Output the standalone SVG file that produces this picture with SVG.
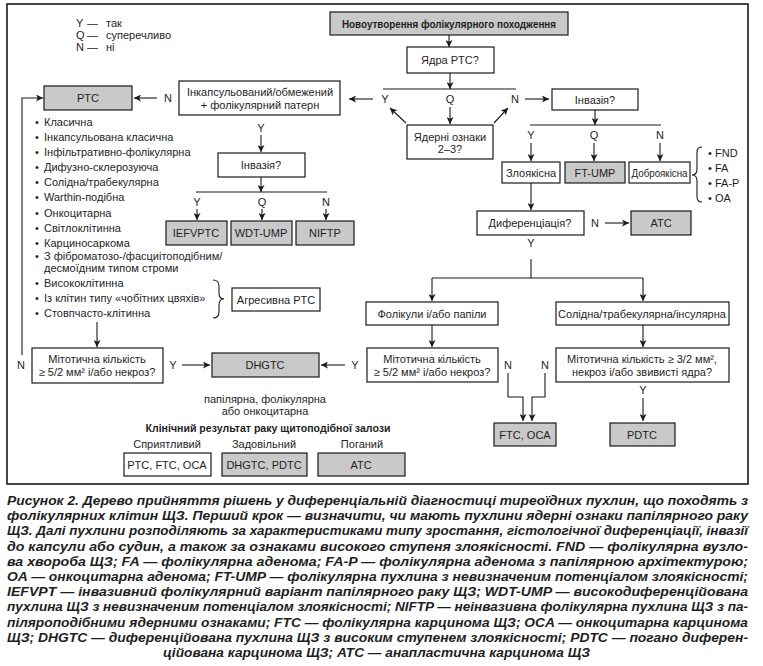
<svg xmlns="http://www.w3.org/2000/svg" width="763" height="666" viewBox="0 0 763 666">
<defs>
<marker id="ah" viewBox="0 0 10 10" refX="10" refY="5" markerWidth="8" markerHeight="7" orient="auto" markerUnits="userSpaceOnUse">
<path d="M0,0 L10,5 L0,10 L2.5,5 z" fill="#1a1a1a"/>
</marker>
<style>
.t{font-family:"Liberation Sans Narrow","Liberation Sans",Arial,sans-serif;font-size:11px;fill:#1e1e1e}
.m{text-anchor:middle}
.b{font-weight:bold}
.w{fill:#fff;stroke:#1a1a1a;stroke-width:1.2}
.g{fill:#c9c9c9;stroke:#1a1a1a;stroke-width:1.2}
.ln{fill:none;stroke:#1a1a1a;stroke-width:1.1}
.a{marker-end:url(#ah)}
.cap{font-family:"Liberation Sans",Arial,sans-serif;font-size:13px;font-weight:bold;font-style:italic;fill:#1e1e1e}
</style>
</defs>
<rect x="7" y="4" width="741" height="480" fill="#fff" stroke="#1a1a1a" stroke-width="1.6"/>

<g id="legend" class="t">
<text y="27"><tspan x="76">Y</tspan><tspan x="87">—</tspan><tspan x="106">так</tspan></text>
<text y="39"><tspan x="76">Q</tspan><tspan x="87">—</tspan><tspan x="106">суперечливо</tspan></text>
<text y="51"><tspan x="76">N</tspan><tspan x="87">—</tspan><tspan x="106">ні</tspan></text>
</g>

<g id="connectors">
<line class="ln a" x1="449" y1="35" x2="449" y2="47"/>
<line class="ln a" x1="450" y1="73" x2="450" y2="89"/>
<line class="ln" x1="383" y1="89" x2="516" y2="89"/>
<line class="ln a" x1="373" y1="99" x2="349" y2="99"/>
<line class="ln a" x1="525" y1="99" x2="549" y2="99"/>
<line class="ln a" x1="450" y1="107" x2="450" y2="124"/>
<line class="ln a" x1="406" y1="123" x2="390" y2="108"/>
<line class="ln a" x1="494" y1="123" x2="508" y2="108"/>
<line class="ln a" x1="157" y1="98" x2="134" y2="98"/>
<path class="ln a" d="M22,355 V98 H43"/>
<line class="ln a" x1="261" y1="135" x2="261" y2="152"/>
<line class="ln a" x1="261" y1="177" x2="261" y2="192"/>
<line class="ln" x1="196" y1="192" x2="327" y2="192"/>
<line class="ln a" x1="197" y1="209" x2="197" y2="220"/>
<line class="ln a" x1="262" y1="209" x2="262" y2="220"/>
<line class="ln a" x1="326" y1="209" x2="326" y2="220"/>
<path class="ln" d="M213,280 Q219,280 219,286 L219,293 Q219,299 224,299 Q219,299 219,305 L219,312 Q219,318 213,318"/>
<line class="ln a" x1="97" y1="322" x2="97" y2="347"/>
<line class="ln a" x1="182" y1="365" x2="210" y2="365"/>
<line class="ln a" x1="345" y1="365" x2="321" y2="365"/>
<line class="ln a" x1="595" y1="110" x2="595" y2="125"/>
<line class="ln" x1="530" y1="125" x2="661" y2="125"/>
<line class="ln a" x1="531" y1="143" x2="531" y2="161"/>
<line class="ln a" x1="594" y1="143" x2="594" y2="161"/>
<line class="ln a" x1="660" y1="143" x2="660" y2="161"/>
<path class="ln" d="M702,147 Q697,147 697,152 L697,169 Q697,175 692,175 Q697,175 697,181 L697,197 Q697,202 702,202"/>
<line class="ln a" x1="531" y1="183" x2="531" y2="210"/>
<line class="ln a" x1="605" y1="223" x2="629" y2="223"/>
<line class="ln" x1="531" y1="259" x2="531" y2="278"/>
<line class="ln" x1="432" y1="278" x2="643" y2="278"/>
<line class="ln a" x1="432" y1="278" x2="432" y2="301"/>
<line class="ln a" x1="643" y1="278" x2="643" y2="301"/>
<line class="ln a" x1="432" y1="325" x2="432" y2="347"/>
<line class="ln a" x1="643" y1="325" x2="643" y2="347"/>
<path class="ln a" d="M508,373 V397 H523 V421"/>
<path class="ln a" d="M545,373 V397 H532 V421"/>
<line class="ln a" x1="643" y1="398" x2="643" y2="421"/>
</g>

<g id="edge-labels" class="t m">
<text x="385" y="103">Y</text>
<text x="450" y="103">Q</text>
<text x="515" y="103">N</text>
<text x="168" y="102">N</text>
<text x="21" y="369">N</text>
<text x="261" y="132">Y</text>
<text x="197" y="206">Y</text>
<text x="262" y="206">Q</text>
<text x="326" y="206">N</text>
<text x="173" y="369">Y</text>
<text x="355" y="369">Y</text>
<text x="531" y="139">Y</text>
<text x="594" y="139">Q</text>
<text x="660" y="139">N</text>
<text x="595" y="227">N</text>
<text x="531" y="247">Y</text>
<text x="508" y="369">N</text>
<text x="545" y="369">N</text>
<text x="643" y="394">Y</text>
</g>

<g id="n-start"><rect class="g" x="330" y="12" width="238" height="23"/><text class="t m b" x="449" y="28" textLength="214" lengthAdjust="spacingAndGlyphs">Новоутворення фолікулярного походження</text></g>
<g id="n-nuclei"><rect class="w" x="407" y="47" width="87" height="26"/><text class="t m" x="450" y="64">Ядра PTC?</text></g>
<g id="n-features"><rect class="w" x="407" y="125" width="86" height="34"/><text class="t m" x="450" y="141">Ядерні ознаки</text><text class="t m" x="450" y="153">2–3?</text></g>
<g id="n-encaps"><rect class="w" x="179" y="81" width="161" height="34"/><text class="t m" x="260" y="96">Інкапсульований/обмежений</text><text class="t m" x="260" y="109">+ фолікулярний патерн</text></g>
<g id="n-ptc"><rect class="g" x="44" y="86" width="88" height="24"/><text class="t m" x="88" y="102">PTC</text></g>
<g id="n-ptc-list" class="t">
<text x="35" y="126">•</text><text x="44" y="126">Класична</text>
<text x="35" y="141">•</text><text x="44" y="141">Інкапсульована класична</text>
<text x="35" y="156">•</text><text x="44" y="156">Інфільтративно-фолікулярна</text>
<text x="35" y="171">•</text><text x="44" y="171">Дифузно-склерозуюча</text>
<text x="35" y="186">•</text><text x="44" y="186">Солідна/трабекулярна</text>
<text x="35" y="201">•</text><text x="44" y="201">Warthin-подібна</text>
<text x="35" y="217">•</text><text x="44" y="217">Онкоцитарна</text>
<text x="35" y="232">•</text><text x="44" y="232">Світлоклітинна</text>
<text x="35" y="247">•</text><text x="44" y="247">Карциносаркома</text>
<text x="35" y="260">•</text><text x="44" y="260">З фіброматозо-/фасциітоподібним/</text>
<text x="44" y="272">десмоїдним типом строми</text>
<text x="35" y="287">•</text><text x="44" y="287">Висококлітинна</text>
<text x="35" y="302">•</text><text x="44" y="302">Із клітин типу «чобітних цвяхів»</text>
<text x="35" y="317">•</text><text x="44" y="317">Стовпчасто-клітинна</text>
</g>
<g id="n-aggr"><rect class="w" x="232" y="288" width="88" height="23"/><text class="t m" x="276" y="304">Агресивна PTC</text></g>
<g id="n-inv1"><rect class="w" x="218" y="153" width="87" height="24"/><text class="t m" x="261" y="169">Інвазія?</text></g>
<g id="n-iefvptc"><rect class="g" x="166" y="221" width="61" height="24"/><text class="t m" x="196" y="237">IEFVPTC</text></g>
<g id="n-wdt"><rect class="g" x="231" y="221" width="61" height="24"/><text class="t m" x="261" y="237">WDT-UMP</text></g>
<g id="n-niftp"><rect class="g" x="296" y="221" width="58" height="24"/><text class="t m" x="325" y="237">NIFTP</text></g>
<g id="n-mit1"><rect class="w" x="32" y="348" width="131" height="35"/><text class="t m" x="97" y="363">Мітотична кількість</text><text class="t m" x="97" y="376">≥ 5/2 мм² і/або некроз?</text></g>
<g id="n-dhgtc"><rect class="g" x="212" y="353" width="107" height="24"/><text class="t m" x="265" y="369">DHGTC</text><text class="t m" x="265" y="403">папілярна, фолікулярна</text><text class="t m" x="265" y="415">або онкоцитарна</text></g>
<g id="outcome">
<text class="t m b" x="268" y="432" textLength="245" lengthAdjust="spacingAndGlyphs">Клінічний результат раку щитоподібної залози</text>
<text class="t m" x="167" y="448">Сприятливий</text>
<text class="t m" x="264" y="448">Задовільний</text>
<text class="t m" x="362" y="448">Поганий</text>
<rect class="w" x="124" y="453" width="87" height="23"/><text class="t m" x="167" y="469">PTC, FTC, OCA</text>
<rect class="g" x="222" y="453" width="85" height="23"/><text class="t m" x="264" y="469">DHGTC, PDTC</text>
<rect class="g" x="318" y="453" width="87" height="23"/><text class="t m" x="361" y="469">ATC</text>
</g>
<g id="n-inv2"><rect class="w" x="552" y="89" width="86" height="21"/><text class="t m" x="595" y="104">Інвазія?</text></g>
<g id="n-malig"><rect class="w" x="502" y="162" width="58" height="21"/><text class="t m" x="531" y="177">Злоякісна</text></g>
<g id="n-ftump"><rect class="g" x="565" y="162" width="60" height="21"/><text class="t m" x="595" y="177">FT-UMP</text></g>
<g id="n-benign"><rect class="w" x="629" y="162" width="61" height="21"/><text class="t m" x="659.5" y="177" textLength="56" lengthAdjust="spacingAndGlyphs">Доброякісна</text></g>
<g id="n-benign-list" class="t">
<text x="708" y="157">•</text><text x="715" y="157">FND</text>
<text x="708" y="172">•</text><text x="715" y="172">FA</text>
<text x="708" y="187">•</text><text x="715" y="187">FA-P</text>
<text x="708" y="202">•</text><text x="715" y="202">OA</text>
</g>
<g id="n-diff"><rect class="w" x="477" y="211" width="107" height="24"/><text class="t m" x="530" y="227">Диференціація?</text></g>
<g id="n-atc"><rect class="g" x="631" y="211" width="60" height="24"/><text class="t m" x="661" y="227">ATC</text></g>
<g id="n-foll"><rect class="w" x="366" y="302" width="132" height="23"/><text class="t m" x="432" y="318">Фолікули і/або папіли</text></g>
<g id="n-solid"><rect class="w" x="556" y="302" width="173" height="23"/><text class="t m" x="642" y="318">Солідна/трабекулярна/інсулярна</text></g>
<g id="n-mit2"><rect class="w" x="367" y="348" width="131" height="34"/><text class="t m" x="432" y="363">Мітотична кількість</text><text class="t m" x="432" y="376">≥ 5/2 мм² і/або некроз?</text></g>
<g id="n-mit3"><rect class="w" x="556" y="348" width="173" height="34"/><text class="t m" x="642" y="363">Мітотична кількість ≥ 3/2 мм²,</text><text class="t m" x="642" y="376">некроз і/або звивисті ядра?</text></g>
<g id="n-ftc"><rect class="g" x="494" y="423" width="62" height="23"/><text class="t m" x="525" y="439">FTC, OCA</text></g>
<g id="n-pdtc"><rect class="g" x="610" y="423" width="65" height="23"/><text class="t m" x="642" y="439">PDTC</text></g>

<g id="caption" class="cap">
<text x="7" y="505" textLength="741" lengthAdjust="spacingAndGlyphs">Рисунок 2. Дерево прийняття рішень у диференціальній діагностиці тиреоїдних пухлин, що походять з</text>
<text x="7" y="520.2" textLength="741" lengthAdjust="spacingAndGlyphs">фолікулярних клітин ЩЗ. Перший крок — визначити, чи мають пухлини ядерні ознаки папілярного раку</text>
<text x="7" y="535.4" textLength="741" lengthAdjust="spacingAndGlyphs">ЩЗ. Далі пухлини розподіляють за характеристиками типу зростання, гістологічної диференціації, інвазії</text>
<text x="7" y="550.6" textLength="741" lengthAdjust="spacingAndGlyphs">до капсули або судин, а також за ознаками високого ступеня злоякісності. FND — фолікулярна вузло-</text>
<text x="7" y="565.8" textLength="741" lengthAdjust="spacingAndGlyphs">ва хвороба ЩЗ; FA — фолікулярна аденома; FA-P — фолікулярна аденома з папілярною архітектурою;</text>
<text x="7" y="581" textLength="741" lengthAdjust="spacingAndGlyphs">OA — онкоцитарна аденома; FT-UMP — фолікулярна пухлина з невизначеним потенціалом злоякісності;</text>
<text x="7" y="596.2" textLength="741" lengthAdjust="spacingAndGlyphs">IEFVPT — інвазивний фолікулярний варіант папілярного раку ЩЗ; WDT-UMP — високодиференційована</text>
<text x="7" y="611.4" textLength="741" lengthAdjust="spacingAndGlyphs">пухлина ЩЗ з невизначеним потенціалом злоякісності; NIFTP — неінвазивна фолікулярна пухлина ЩЗ з па-</text>
<text x="7" y="626.6" textLength="741" lengthAdjust="spacingAndGlyphs">піляроподібними ядерними ознаками; FTC — фолікулярна карцинома ЩЗ; OCA — онкоцитарна карцинома</text>
<text x="7" y="641.8" textLength="741" lengthAdjust="spacingAndGlyphs">ЩЗ; DHGTC — диференційована пухлина ЩЗ з високим ступенем злоякісності; PDTC — погано диферен-</text>
<text x="163" y="657" textLength="427" lengthAdjust="spacingAndGlyphs">ційована карцинома ЩЗ; ATC — анапластична карцинома ЩЗ</text>
</g>
</svg>
